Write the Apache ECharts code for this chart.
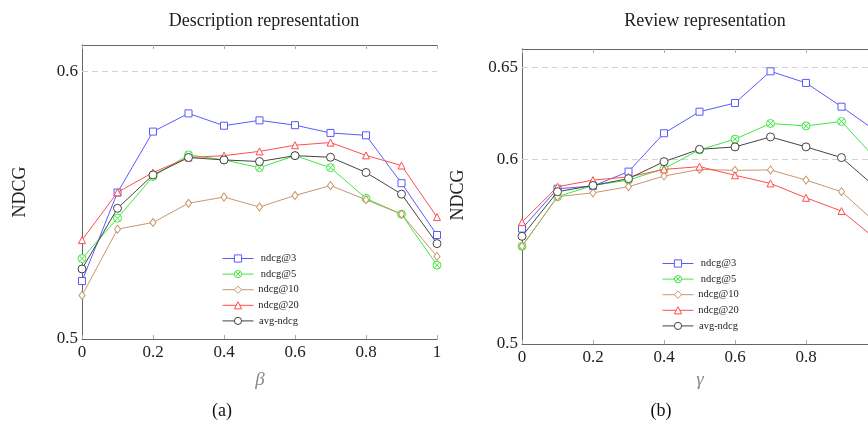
<!DOCTYPE html>
<html>
<head>
<meta charset="utf-8">
<script src="https://cdn.jsdelivr.net/npm/echarts@6/dist/echarts.min.js"></script>
<style>
html, body { margin: 0; padding: 0; background: #fff; }
#chart { width: 868px; height: 425px; }
</style>
</head>
<body>
<div id="chart"></div>
<script>
var myChart = echarts.init(document.getElementById('chart'));

// x values (beta / gamma)
var xs = [0, 0.1, 0.2, 0.3, 0.4, 0.5, 0.6, 0.7, 0.8, 0.9, 1];
var names = ['ndcg@3', 'ndcg@5', 'ndcg@10', 'ndcg@20', 'avg-ndcg'];

// (a) Description representation
var descNdcg3 = [0.5217, 0.5548, 0.5776, 0.5844, 0.5798, 0.5818, 0.5800, 0.5771, 0.5762, 0.5583, 0.5389];
var descNdcg5 = [0.5301, 0.5452, 0.5608, 0.5689, 0.5670, 0.5641, 0.5686, 0.5641, 0.5526, 0.5467, 0.5276];
var descNdcg10 = [0.5163, 0.5411, 0.5436, 0.5508, 0.5531, 0.5494, 0.5537, 0.5574, 0.5521, 0.5467, 0.5309];
var descNdcg20 = [0.5370, 0.5549, 0.5623, 0.5679, 0.5686, 0.5702, 0.5725, 0.5735, 0.5687, 0.5649, 0.5456];
var descAvg = [0.5262, 0.5489, 0.5614, 0.5679, 0.5670, 0.5664, 0.5686, 0.5680, 0.5623, 0.5542, 0.5357];

// (b) Review representation (last point lies outside the cropped picture, estimated)
var revNdcg3 = [0.5626, 0.5842, 0.5857, 0.5935, 0.6143, 0.6260, 0.6307, 0.6479, 0.6416, 0.6287, 0.6151];
var revNdcg5 = [0.5530, 0.5799, 0.5860, 0.5889, 0.5951, 0.6053, 0.6111, 0.6196, 0.6183, 0.6207, 0.5996];
var revNdcg10 = [0.5530, 0.5799, 0.5820, 0.5853, 0.5911, 0.5947, 0.5942, 0.5944, 0.5889, 0.5826, 0.5652];
var revNdcg20 = [0.5661, 0.5853, 0.5889, 0.5906, 0.5947, 0.5962, 0.5915, 0.5871, 0.5793, 0.5721, 0.5565];
var revAvg = [0.5584, 0.5826, 0.5860, 0.5897, 0.5989, 0.6056, 0.6069, 0.6123, 0.6069, 0.6011, 0.5844];

// tick labels and dashed grid lines
var descTicks = [0.5, 0.6];
var descGrid = [0.6];
var revTicks = [0.5, 0.6, 0.65];
var revGrid = [0.6, 0.65];

var serif = 'Liberation Serif';
var colors = ['#5a5aff', '#3ee83e', '#c8966c', '#ff4d4d', '#444444'];
var circleX = 'path://M0,5A5,5 0 1,1 10,5A5,5 0 1,1 0,5Z M1.5,1.5L8.5,8.5M8.5,1.5L1.5,8.5';
var symbols = ['rect', circleX, 'diamond', 'triangle', 'circle'];
var sizes = [7, 8, [6, 8], 7, 8];

function pairs(arr) {
    var out = [];
    for (var i = 0; i < xs.length; ++i) {
        out.push([xs[i], arr[i]]);
    }
    return out;
}

function makeSeries(list, idx, grid) {
    var res = [];
    for (var i = 0; i < list.length; ++i) {
        var s = {
            name: names[i],
            type: 'line',
            xAxisIndex: idx,
            yAxisIndex: idx,
            data: pairs(list[i]),
            symbol: symbols[i],
            symbolSize: sizes[i],
            symbolKeepAspect: true,
            showAllSymbol: true,
            clip: false,
            lineStyle: { color: colors[i], width: 1 },
            itemStyle: { color: '#fff', borderColor: colors[i], borderWidth: 1 },
            emphasis: { disabled: true },
            z: 5 + i
        };
        if (i == 0) {
            var lines = [];
            for (var k = 0; k < grid.length; ++k) lines.push({ yAxis: grid[k] });
            s.markLine = {
                silent: true,
                symbol: 'none',
                label: { show: false },
                lineStyle: { color: '#d2d2d2', type: [6, 4], width: 1 },
                data: lines,
                z: 1
            };
        }
        res.push(s);
    }
    return res;
}

function yLabel(ticks) {
    return function (v) {
        for (var i = 0; i < ticks.length; ++i) {
            if (Math.abs(v - ticks[i]) < 1e-6) return String(ticks[i]);
        }
        return '';
    };
}

function axesFor(gi, ymin, ymax, yint, ticks) {
    var xa = [
        {
            type: 'value', gridIndex: gi, min: 0, max: 1, interval: 0.2,
            axisLine: { lineStyle: { color: '#666', width: 1 } },
            axisTick: { inside: true, length: 4, lineStyle: { color: '#aaa' } },
            axisLabel: { color: '#222', fontFamily: serif, fontSize: 17, margin: 5 },
            splitLine: { show: false }
        },
        {
            type: 'value', gridIndex: gi, position: 'top', min: 0, max: 1, interval: 0.2,
            axisLine: { lineStyle: { color: '#666', width: 1 } },
            axisTick: { inside: true, length: 4, lineStyle: { color: '#aaa' } },
            axisLabel: { show: false },
            splitLine: { show: false }
        }
    ];
    var ya = [
        {
            type: 'value', gridIndex: gi, min: ymin, max: ymax, interval: yint,
            axisLine: { show: true, lineStyle: { color: '#666', width: 1 } },
            axisTick: { show: false },
            axisLabel: { color: '#222', fontFamily: serif, fontSize: 17, margin: 4, formatter: yLabel(ticks), showMaxLabel: false },
            splitLine: { show: false }
        },
        {
            type: 'value', gridIndex: gi, position: 'right', min: ymin, max: ymax,
            axisLine: { show: true, lineStyle: { color: '#666', width: 1 } },
            axisTick: { show: false },
            axisLabel: { show: false },
            splitLine: { show: false }
        }
    ];
    return { x: xa, y: ya };
}

var a0 = axesFor(0, 0.5, 0.61, 0.1, descTicks);
var a1 = axesFor(1, 0.5, 0.66, 0.05, revTicks);

var xAxes = a0.x.concat(a1.x);
var yAxes = a0.y.concat(a1.y);

var series = makeSeries([descNdcg3, descNdcg5, descNdcg10, descNdcg20, descAvg], 0, descGrid)
    .concat(makeSeries([revNdcg3, revNdcg5, revNdcg10, revNdcg20, revAvg], 2, revGrid));

// legend entries carry their own hollow marker style
var legendData = [];
for (var i = 0; i < names.length; ++i) {
    legendData.push({
        name: names[i],
        itemStyle: { color: '#fff', borderColor: colors[i], borderWidth: 1 },
        lineStyle: { color: colors[i], width: 1 }
    });
}

var legendBase = {
    orient: 'vertical',
    padding: 0,
    itemWidth: 31,
    itemHeight: 9,
    itemGap: 4.6,
    data: legendData,
    selectedMode: false,
    lineStyle: { width: 1 },
    formatter: '{t|{name}}',
    textStyle: {
        rich: { t: { fontFamily: serif, fontSize: 10.5, color: '#222', width: 40, align: 'center', lineHeight: 12 } }
    }
};

var leg0 = echarts.util.merge({ left: 222, top: 253 }, legendBase, true);
var leg1 = echarts.util.merge({ left: 662, top: 258 }, legendBase, true);

myChart.setOption({
    animation: false,
    title: [
        { text: 'Description representation', left: 259, top: 7, textAlign: 'center',
          textStyle: { fontFamily: serif, fontSize: 18, fontWeight: 'normal', color: '#222' } },
        { text: 'Review representation', left: 700, top: 7, textAlign: 'center',
          textStyle: { fontFamily: serif, fontSize: 18, fontWeight: 'normal', color: '#222' } }
    ],
    legend: [leg0, leg1],
    grid: [
        { left: 82, top: 45, width: 355, height: 294, outerBoundsMode: 'none' },
        { left: 522, top: 49, width: 355, height: 295, outerBoundsMode: 'none' }
    ],
    xAxis: xAxes,
    yAxis: yAxes,
    series: series,
    graphic: [
        { type: 'text', x: 20, y: 192, rotation: Math.PI / 2,
          style: { text: 'NDCG', fontFamily: serif, fontSize: 18, fill: '#222', align: 'center', verticalAlign: 'middle' } },
        { type: 'text', x: 458, y: 195, rotation: Math.PI / 2,
          style: { text: 'NDCG', fontFamily: serif, fontSize: 18, fill: '#222', align: 'center', verticalAlign: 'middle' } },
        { type: 'text', x: 260, y: 380,
          style: { text: 'β', fontFamily: serif, fontStyle: 'italic', fontSize: 19, fill: '#888', align: 'center', verticalAlign: 'middle' } },
        { type: 'text', x: 700, y: 380,
          style: { text: 'γ', fontFamily: serif, fontStyle: 'italic', fontSize: 19, fill: '#888', align: 'center', verticalAlign: 'middle' } },
        { type: 'text', x: 222, y: 411,
          style: { text: '(a)', fontFamily: serif, fontSize: 18, fill: '#111', align: 'center', verticalAlign: 'middle' } },
        { type: 'text', x: 661, y: 411,
          style: { text: '(b)', fontFamily: serif, fontSize: 18, fill: '#111', align: 'center', verticalAlign: 'middle' } }
    ]
});
</script>
</body>
</html>
